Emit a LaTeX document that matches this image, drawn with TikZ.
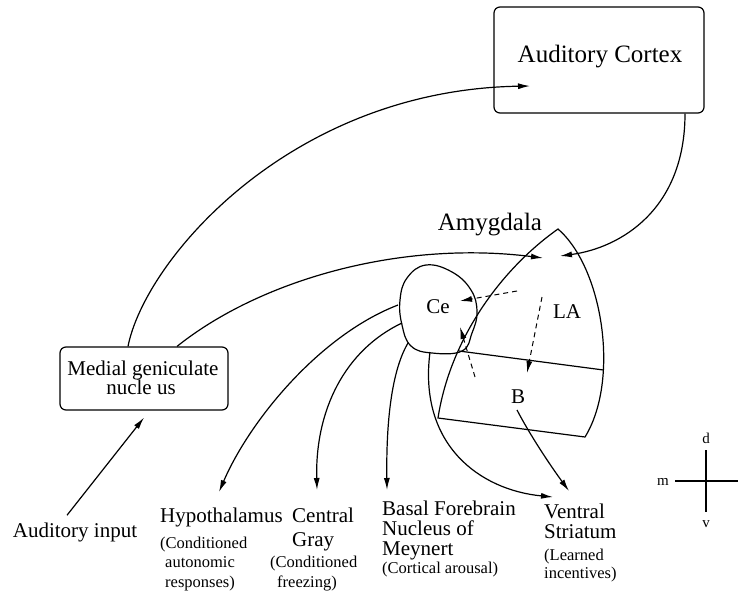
\documentclass[tikz,border=0pt]{standalone}
\usepackage{fontspec}
\setmainfont{Liberation Serif}
\usetikzlibrary{arrows.meta}
\tikzset{
  wire/.style={line width=1.2pt},
  arr/.style={wire,-{Latex[length=12pt,width=6pt]}},
  darr/.style={line width=1pt,dash pattern=on 5pt off 4pt,-{Latex[length=12pt,width=6pt]}},
  roundbox/.style={draw,line width=1.2pt,rounded corners=6pt,inner sep=0pt},
  bigtxt/.style={font=\fontsize{25}{30}\selectfont,inner sep=0pt},
  midtxt/.style={font=\fontsize{21}{24}\selectfont,inner sep=0pt},
  smalltxt/.style={font=\fontsize{16.5}{19}\selectfont,inner sep=0pt},
  axtxt/.style={font=\fontsize{15}{18}\selectfont,inner sep=0pt},
}
\begin{document}
\begin{tikzpicture}[x=1pt,y=-1pt]
\useasboundingbox (0,0) rectangle (743,592);

% ---- boxes ----
\node[roundbox,minimum width=210pt,minimum height=106pt] (ac) at (599,60) {};
\node[bigtxt,anchor=base] (actxt) at (600,62) {Auditory Cortex};
\node[roundbox,minimum width=168pt,minimum height=63pt] (mgn) at (144,378.5) {};
\node[midtxt,anchor=base] (mgn1) at (143,375) {Medial geniculate};
\node[midtxt,anchor=base] (mgn2) at (141,394) {nucle us};
\node[midtxt,anchor=base] (ain) at (75,537) {Auditory input};

% ---- amygdala ----
\node[bigtxt,anchor=base] (amy) at (490,230) {Amygdala};
\draw[wire] (558,229) .. controls (603,268) and (620,380) .. (585,437)
  -- (438,418) .. controls (450,340) and (500,270) .. cycle;
\draw[wire] (459,351) -- (603.5,370);
\draw[wire] plot[smooth cycle,tension=0.7] coordinates
  {(426,265) (452,272) (471,290) (477,312) (472,333) (462,351)
   (432,353) (411,346) (402,325) (400,300) (407,278)};
\node[midtxt,anchor=base] (ce) at (438,313) {Ce};
\node[midtxt,anchor=base] (la) at (567,318) {LA};
\node[midtxt,anchor=base] (bl) at (518,403) {B};

% ---- output targets ----
\node[midtxt,anchor=base west] (hyp) at (160,522) {Hypothalamus};
\node[smalltxt,anchor=base west] (hyp1) at (160,548) {(Conditioned};
\node[smalltxt,anchor=base west] (hyp2) at (165,567) {autonomic};
\node[smalltxt,anchor=base west] (hyp3) at (165,587) {responses)};

\node[midtxt,anchor=base west] (cg) at (292,522) {Central};
\node[midtxt,anchor=base west] (cg1) at (292,546) {Gray};
\node[smalltxt,anchor=base west] (cg2) at (270,567) {(Conditioned};
\node[smalltxt,anchor=base west] (cg3) at (277,587) {freezing)};

\node[midtxt,anchor=base west] (bf) at (382,515) {Basal Forebrain};
\node[midtxt,anchor=base west] (bf1) at (382,535) {Nucleus of};
\node[midtxt,anchor=base west] (bf2) at (382,555) {Meynert};
\node[smalltxt,anchor=base west] (bf3) at (382,573) {(Cortical arousal)};

\node[midtxt,anchor=base west] (vs) at (544,518) {Ventral};
\node[midtxt,anchor=base west] (vs1) at (544,538) {Striatum};
\node[smalltxt,anchor=base west] (vs2) at (544,560) {(Learned};
\node[smalltxt,anchor=base west] (vs3) at (544,578) {incentives)};

% ---- connector end points ----
\coordinate (acIn) at (530,86);
\coordinate (laL) at (543,258);
\coordinate (laR) at (560,256);
\coordinate (ceA) at (398,305);
\coordinate (ceB) at (402,323);
\coordinate (ceC) at (408,343);
\coordinate (ceD) at (430,352);
\coordinate (bOut) at (517,410);
\coordinate (hypTip) at (219,492);
\coordinate (cgTip) at (317,490);
\coordinate (bfTip) at (387,490);
\coordinate (vsTipA) at (553,497);
\coordinate (vsTipB) at (569,491);

% ---- auditory pathways ----
\draw[arr] ([xshift=-8pt,yshift=7pt]ain.north) -- ([yshift=-7pt]mgn.south);
\draw[arr] ([xshift=-16pt]mgn.north) .. controls (145,260) and (290,90) .. (acIn);
\draw[arr] ([xshift=33pt]mgn.north) .. controls (260,280) and (400,240) .. (laL);
\draw[arr] ([xshift=86pt]ac.south) .. controls (685,210) and (620,248) .. (laR);

% ---- intra-amygdala connections ----
\coordinate (la1) at (517,291); \coordinate (ce1) at (460,301);
\coordinate (la2) at (542,297); \coordinate (b2) at (527,373);
\coordinate (b3) at (475,377);  \coordinate (ce3) at (460,327);
\draw[darr] (la1) -- (ce1);
\draw[darr] (la2) -- (b2);
\draw[darr] (b3) -- (ce3);

% ---- outputs ----
\draw[arr] (ceA) .. controls (320,335) and (250,420) .. (hypTip);
\draw[arr] (ceB) .. controls (345,350) and (315,410) .. (cgTip);
\draw[arr] (ceC) .. controls (392,370) and (386,420) .. (bfTip);
\draw[arr] (ceD) .. controls (418,445) and (480,490) .. (vsTipA);
\draw[arr] (bOut) .. controls (530,435) and (550,465) .. (vsTipB);

% ---- orientation cross ----
\node[axtxt,anchor=base] (axd) at (706,443) {d};
\node[axtxt,anchor=base] (axv) at (706,527) {v};
\node[axtxt,anchor=base] (axm) at (663,485) {m};
\coordinate (axTop) at (706,450); \coordinate (axBot) at (706,512);
\coordinate (axL) at (675,481);   \coordinate (axR) at (738,481);
\draw[wire] (axTop) -- (axBot);
\draw[wire] (axL) -- (axR);
\end{tikzpicture}
\end{document}
